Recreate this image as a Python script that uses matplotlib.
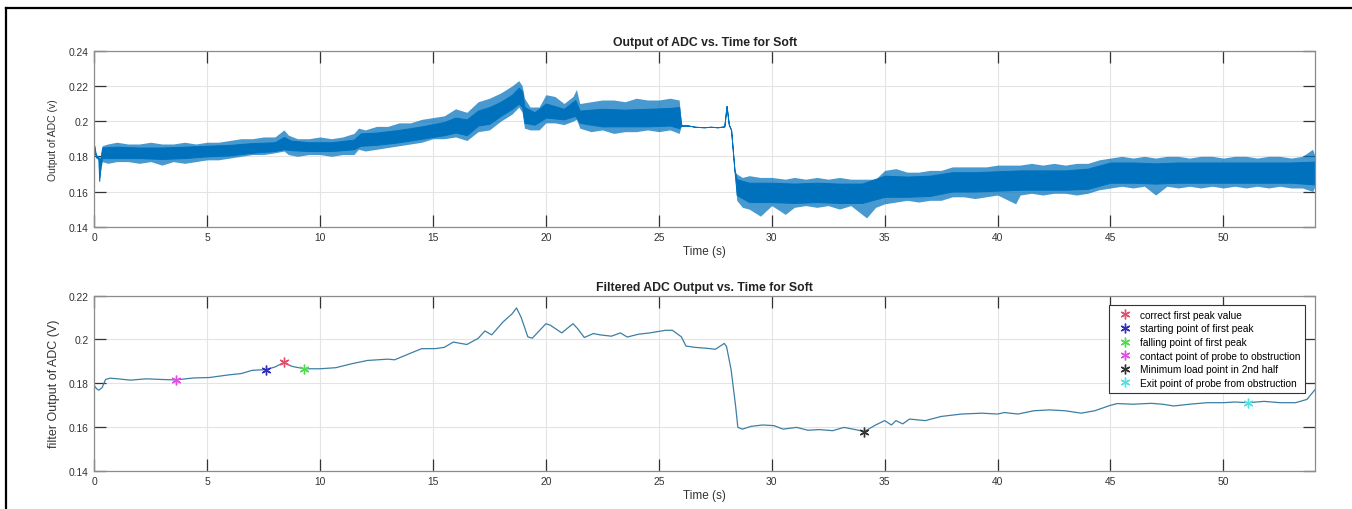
import matplotlib
matplotlib.use("Agg")
import matplotlib.pyplot as plt
from matplotlib.lines import Line2D

plt.rcParams['font.family'] = ['Liberation Sans', 'DejaVu Sans']

# ---- raw ADC output: outer envelope of the sampled signal (time, min, max) ----
raw_t = [0.00, 0.08, 0.18, 0.22, 0.28, 0.35, 0.6, 1.0, 1.5, 2.0, 2.5, 3.0, 3.5, 4.0, 4.5,
         5.0, 5.5, 6.0, 6.5, 7.0, 7.5, 8.0, 8.4, 8.6, 9.0, 9.5, 10.0, 10.5, 11.0, 11.5,
         11.7, 12.0, 12.5, 13.0, 13.5, 14.0, 14.5, 15.0, 15.5, 16.0, 16.5, 17.0, 17.5,
         18.0, 18.5, 18.8, 18.95, 19.05, 19.3, 19.7, 20.0, 20.4, 20.8, 21.2, 21.35, 21.5,
         22.0, 22.5, 23.0, 23.5, 24.0, 24.5, 25.0, 25.5, 25.9,
         26.0, 26.3, 26.6, 27.0, 27.3, 27.6, 27.9, 28.0, 28.1, 28.2, 28.35,
         28.45, 28.7, 29.0, 29.5, 30.0, 30.6, 31.0, 31.5, 32.0, 32.5, 33.0, 33.5, 34.2,
         34.6, 35.0, 35.5, 36.0, 36.5, 37.0, 37.5, 38.0, 38.5, 39.0, 39.5, 40.0, 40.8,
         41.0, 41.5, 42.0, 42.5, 43.0, 43.5, 44.0, 44.5, 45.0, 45.5, 46.0, 46.5, 47.0,
         47.5, 48.0, 48.5, 49.0, 49.5, 50.0, 50.5, 51.0, 51.5, 52.0, 52.5, 53.0, 53.5,
         53.95, 54.06]
raw_lo = [0.182, 0.179, 0.178, 0.166, 0.172, 0.177, 0.176, 0.177, 0.177, 0.176, 0.177,
          0.175, 0.177, 0.176, 0.177, 0.178, 0.178, 0.179, 0.180, 0.181, 0.181, 0.182,
          0.183, 0.181, 0.180, 0.181, 0.181, 0.180, 0.181, 0.181, 0.184, 0.183, 0.184,
          0.185, 0.186, 0.187, 0.188, 0.190, 0.190, 0.191, 0.189, 0.194, 0.195, 0.200,
          0.204, 0.208, 0.205, 0.196, 0.195, 0.195, 0.199, 0.199, 0.198, 0.200, 0.201,
          0.196, 0.194, 0.195, 0.193, 0.194, 0.194, 0.195, 0.194, 0.195, 0.193,
          0.1975, 0.1975, 0.1968, 0.1965, 0.1968, 0.1965, 0.1970, 0.2086, 0.1980, 0.1950, 0.1720,
          0.155, 0.151, 0.150, 0.146, 0.152, 0.147, 0.151, 0.152, 0.151, 0.152, 0.150,
          0.152, 0.145, 0.151, 0.153, 0.154, 0.155, 0.154, 0.155, 0.155, 0.157, 0.157,
          0.156, 0.157, 0.158, 0.153, 0.158, 0.159, 0.158, 0.159, 0.159, 0.158, 0.159,
          0.161, 0.162, 0.163, 0.162, 0.163, 0.158, 0.163, 0.162, 0.163, 0.162, 0.163,
          0.162, 0.163, 0.162, 0.163, 0.162, 0.163, 0.162, 0.162, 0.160, 0.163]
raw_hi = [0.186, 0.181, 0.180, 0.179, 0.180, 0.186, 0.187, 0.188, 0.187, 0.187, 0.188,
          0.187, 0.187, 0.188, 0.187, 0.188, 0.188, 0.189, 0.190, 0.190, 0.191, 0.191,
          0.195, 0.192, 0.190, 0.190, 0.191, 0.190, 0.191, 0.193, 0.196, 0.195, 0.197,
          0.197, 0.199, 0.199, 0.201, 0.202, 0.203, 0.207, 0.205, 0.211, 0.213, 0.216,
          0.220, 0.223, 0.220, 0.213, 0.208, 0.208, 0.215, 0.214, 0.210, 0.214, 0.218,
          0.210, 0.211, 0.212, 0.212, 0.211, 0.213, 0.212, 0.212, 0.213, 0.212,
          0.1975, 0.1975, 0.1968, 0.1965, 0.1968, 0.1965, 0.1970, 0.2086, 0.1980, 0.1950, 0.1720,
          0.170, 0.168, 0.169, 0.168, 0.168, 0.167, 0.168, 0.167, 0.168, 0.167, 0.168,
          0.167, 0.167, 0.167, 0.172, 0.173, 0.171, 0.171, 0.172, 0.172, 0.174, 0.174,
          0.174, 0.174, 0.175, 0.175, 0.175, 0.176, 0.175, 0.176, 0.175, 0.176, 0.176,
          0.178, 0.179, 0.180, 0.179, 0.180, 0.179, 0.180, 0.180, 0.179, 0.180, 0.180,
          0.179, 0.180, 0.180, 0.179, 0.180, 0.180, 0.179, 0.180, 0.184, 0.180]

# ---- raw ADC output: dense core of the signal ----
core_t = [0.00, 0.08, 0.18, 0.22, 0.28, 0.35, 1.0, 2.0, 3.0, 4.0, 5.0, 6.0, 7.0, 8.0,
          8.4, 8.7, 9.5, 10.5, 11.5, 11.8, 12.5, 13.5, 14.5, 15.5, 16.0, 16.5, 17.0,
          17.5, 18.0, 18.5, 18.8, 18.95, 19.05, 19.5, 20.0, 20.8, 21.3, 21.5, 22.5,
          23.5, 24.5, 25.5, 25.9, 26.0, 26.3, 26.6, 27.0, 27.3, 27.6, 27.9, 28.0, 28.1,
          28.2, 28.35, 28.45, 29.0, 30.0, 31.0, 32.0, 33.0, 34.0, 35.0, 36.0, 37.0,
          38.0, 39.0, 40.0, 41.0, 42.0, 43.0, 44.0, 45.0, 46.0, 47.0, 48.0, 49.0, 50.0,
          51.0, 52.0, 53.0, 54.06]
core_lo = [0.1840, 0.1795, 0.1790, 0.1660, 0.1740, 0.1790, 0.1790, 0.1790, 0.1785, 0.1790,
           0.1800, 0.1805, 0.1820, 0.1830, 0.1840, 0.1835, 0.1830, 0.1830, 0.1840, 0.1860,
           0.1865, 0.1880, 0.1900, 0.1920, 0.1935, 0.1920, 0.1975, 0.1985, 0.2030, 0.2070,
           0.2100, 0.2080, 0.1990, 0.1980, 0.2020, 0.2010, 0.2030, 0.1990, 0.1970, 0.1970,
           0.1970, 0.1975, 0.1960,
           0.1975, 0.1975, 0.1968, 0.1965, 0.1968, 0.1965, 0.1970, 0.2086, 0.1980, 0.1950,
           0.1720, 0.1580, 0.1540, 0.1540, 0.1535, 0.1540, 0.1535, 0.1535, 0.1570, 0.1570,
           0.1575, 0.1600, 0.1600, 0.1605, 0.1610, 0.1610, 0.1610, 0.1615, 0.1650, 0.1650,
           0.1645, 0.1650, 0.1650, 0.1650, 0.1650, 0.1650, 0.1650, 0.1640]
core_hi = [0.1860, 0.1805, 0.1800, 0.1780, 0.1790, 0.1850, 0.1855, 0.1850, 0.1850, 0.1855,
           0.1860, 0.1865, 0.1875, 0.1880, 0.1910, 0.1890, 0.1880, 0.1880, 0.1895, 0.1930,
           0.1935, 0.1950, 0.1970, 0.1995, 0.2020, 0.2010, 0.2060, 0.2080, 0.2110, 0.2150,
           0.2190, 0.2170, 0.2080, 0.2050, 0.2100, 0.2070, 0.2120, 0.2060, 0.2070, 0.2065,
           0.2070, 0.2075, 0.2080,
           0.1975, 0.1975, 0.1968, 0.1965, 0.1968, 0.1965, 0.1970, 0.2086, 0.1980, 0.1950,
           0.1720, 0.1670, 0.1650, 0.1650, 0.1645, 0.1650, 0.1645, 0.1645, 0.1690, 0.1685,
           0.1690, 0.1710, 0.1710, 0.1715, 0.1720, 0.1720, 0.1720, 0.1730, 0.1765, 0.1765,
           0.1760, 0.1765, 0.1765, 0.1765, 0.1765, 0.1765, 0.1765, 0.1770]

# ---- filtered ADC output ----
filt_t = [0.0, 0.1, 0.2, 0.35, 0.5, 0.7, 1.05, 1.6, 2.3, 3.0, 3.6, 4.4, 5.1, 5.95, 6.5,
          7.0, 7.6, 8.0, 8.4, 8.75, 9.3, 10.0, 10.7, 11.4, 12.1, 13.0, 13.3, 14.0, 14.5,
          15.1, 15.5, 15.9, 16.5, 17.0, 17.3, 17.6, 18.1, 18.5, 18.7, 18.9, 19.2, 19.4,
          20.0, 20.2, 20.7, 21.2, 21.4, 21.7, 22.1, 22.4, 22.9, 23.3, 23.6, 24.1, 24.6,
          25.3, 25.6, 26.0, 26.2, 26.6, 27.2, 27.5, 27.9, 28.0, 28.2, 28.4, 28.5, 28.7,
          29.1, 29.6, 30.1, 30.5, 31.1, 31.6, 32.1, 32.7, 33.2, 33.7, 34.1, 34.6, 35.0,
          35.3, 35.5, 35.8, 36.1, 36.8, 37.5, 38.4, 39.3, 40.0, 40.3, 40.9, 41.6, 42.3,
          43.0, 43.7, 44.3, 45.0, 45.3, 46.0, 46.8, 47.3, 47.8, 48.5, 49.3, 50.0, 50.5,
          51.1, 51.8, 52.5, 53.2, 53.7, 54.06]
filt_v = [0.1790, 0.1775, 0.1768, 0.1780, 0.1817, 0.1823, 0.1820, 0.1814, 0.1820, 0.1817,
          0.1815, 0.1824, 0.1826, 0.1838, 0.1844, 0.1859, 0.1862, 0.1874, 0.1895, 0.1877,
          0.1866, 0.1866, 0.1871, 0.1889, 0.1904, 0.1910, 0.1907, 0.1937, 0.1958, 0.1958,
          0.1964, 0.1988, 0.1977, 0.2005, 0.2039, 0.2021, 0.2080, 0.2117, 0.2144, 0.2102,
          0.2012, 0.2006, 0.2072, 0.2065, 0.2030, 0.2072, 0.2050, 0.2009, 0.2027, 0.2021,
          0.2015, 0.2030, 0.2011, 0.2024, 0.2030, 0.2042, 0.2042, 0.2012, 0.1970, 0.1964,
          0.1959, 0.1955, 0.1982, 0.1967, 0.1862, 0.1696, 0.1598, 0.1590, 0.1603, 0.1609,
          0.1606, 0.1590, 0.1598, 0.1585, 0.1588, 0.1583, 0.1598, 0.1588, 0.1579, 0.1609,
          0.1629, 0.1609, 0.1629, 0.1614, 0.1636, 0.1629, 0.1648, 0.1659, 0.1663, 0.1659,
          0.1666, 0.1659, 0.1674, 0.1678, 0.1674, 0.1663, 0.1674, 0.1699, 0.1707, 0.1704,
          0.1708, 0.1704, 0.1696, 0.1704, 0.1711, 0.1711, 0.1714, 0.1711, 0.1717, 0.1711,
          0.1711, 0.1726, 0.1771]

# ---- detected event points on the filtered curve ----
event_labels = ["correct first peak value", "starting point of first peak",
                "falling point of first peak", "contact point of probe to obstruction",
                "Minimum load point in 2nd half", "Exit point of probe from obstruction"]
event_t = [8.4, 7.6, 9.3, 3.6, 34.1, 51.1]
event_v = [0.1895, 0.1862, 0.1866, 0.1815, 0.1579, 0.1711]
event_colors = ["#e0506a", "#2e2eb8", "#4fdc4f", "#e050e0", "#333333", "#4fe3e3"]

x_ticks = [0, 5, 10, 15, 20, 25, 30, 35, 40, 45, 50]
top_yticks = [0.14, 0.16, 0.18, 0.20, 0.22, 0.24]
top_ylabels = ["0.14", "0.16", "0.18", "0.2", "0.22", "0.24"]
bot_yticks = [0.14, 0.16, 0.18, 0.20, 0.22]
bot_ylabels = ["0.14", "0.16", "0.18", "0.2", "0.22"]

BLUE = "#0072BD"
ASTERISK = (6, 2, 0)

fig = plt.figure(figsize=(13.52, 5.10), dpi=100)
ax1 = fig.add_axes([0.0697, 0.5535, 0.9030, 0.3451])
ax2 = fig.add_axes([0.0697, 0.0751, 0.9030, 0.3431])


def style(ax, yticks, ylabels):
    ax.set_xlim(0, 54.06)
    ax.set_xticks(x_ticks)
    ax.set_xticklabels([str(v) for v in x_ticks])
    ax.set_yticks(yticks)
    ax.set_yticklabels(ylabels)
    ax.set_ylim(yticks[0], yticks[-1])
    ax.grid(True, color="#e4e4e4", linewidth=0.8)
    ax.set_axisbelow(True)
    ax.tick_params(direction="in", length=8.5, width=0.9, color="#333333",
                   labelsize=7.4, labelcolor="#333333", top=True, right=True, pad=4)
    for sp in ax.spines.values():
        sp.set_color("#8c8c8c")
        sp.set_linewidth(0.9)


style(ax1, top_yticks, top_ylabels)
ax1.fill_between(raw_t, raw_lo, raw_hi, color=BLUE, alpha=0.72, linewidth=0)
ax1.fill_between(core_t, core_lo, core_hi, color=BLUE, edgecolor=BLUE, linewidth=0.7)
ax1.set_title("Output of ADC vs. Time for Soft", fontsize=8.8, fontweight="bold",
              color="#222222", pad=4)
ax1.set_xlabel("Time (s)", fontsize=8.5, color="#333333", labelpad=2)
ax1.set_ylabel("Output of ADC (v)", fontsize=7.5, color="#333333", labelpad=8)

style(ax2, bot_yticks, bot_ylabels)
ax2.plot(filt_t, filt_v, color="#3d7fa3", linewidth=0.9)
for lab, tt, vv, cc in zip(event_labels, event_t, event_v, event_colors):
    ax2.plot([tt], [vv], linestyle="none", marker=ASTERISK, markersize=7,
             color=cc, markeredgewidth=1.0, label=lab)
ax2.set_title("Filtered ADC Output vs. Time for Soft", fontsize=8.8, fontweight="bold",
              color="#222222", pad=4)
ax2.set_xlabel("Time (s)", fontsize=8.5, color="#333333", labelpad=2)
ax2.set_ylabel("filter Output of ADC (V)", fontsize=9, color="#333333", labelpad=6)
leg = ax2.legend(loc="upper right", bbox_to_anchor=(0.9945, 0.963), fontsize=7.3,
                 frameon=True, fancybox=False, edgecolor="#333333", framealpha=1,
                 borderpad=0.45, labelspacing=0.36, handlelength=2.2,
                 handletextpad=0.4, borderaxespad=0.3)
leg.get_frame().set_linewidth(0.8)

# outer frame lines along the top and left edges
fig.add_artist(Line2D([6 / 1352, 1.0], [1 - 9 / 510, 1 - 9 / 510], color="black",
                      linewidth=1.6, transform=fig.transFigure))
fig.add_artist(Line2D([6 / 1352, 6 / 1352], [0.0, 1 - 9 / 510], color="black",
                      linewidth=1.6, transform=fig.transFigure))

fig.savefig("out.png", dpi=100)
